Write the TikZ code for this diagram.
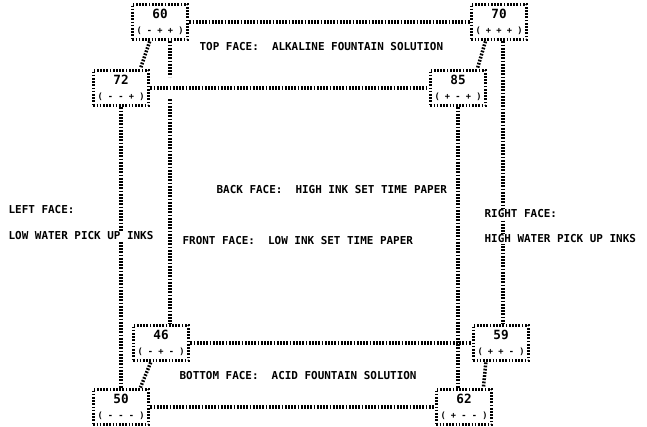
\documentclass[tikz,border=0pt]{standalone}
\usepackage{fontspec}
\newfontfamily\facefont{DejaVu Sans Mono}
\begin{document}
\begin{tikzpicture}[x=0.75pt, y=-0.75pt, line cap=butt,
	dotline/.style={line width=2.6pt, dash pattern=on 1.3pt off 1.1pt},
	cornerbox/.style={draw, dotline, minimum width=41.5pt, minimum height=26.5pt, inner sep=0pt, align=center},
	facelabel/.style={font={\facefont\bfseries\fontsize{8.2}{9}\selectfont}, fill=white, inner sep=1pt, anchor=west}]
	\def\cornertext#1#2{{\facefont\bfseries\fontsize{9.5}{10}\selectfont #1}\\[-1pt]{\facefont\bfseries\fontsize{6.5}{7}\selectfont #2}}
	\useasboundingbox (0,0) rectangle (647,426);
	\node[cornerbox] (b60) at (160,22) {\cornertext{60}{( - + + )}};
	\node[cornerbox] (b70) at (499,22) {\cornertext{70}{( + + + )}};
	\node[cornerbox] (b72) at (121,88) {\cornertext{72}{( - - + )}};
	\node[cornerbox] (b85) at (458,88) {\cornertext{85}{( + - + )}};
	\node[cornerbox] (b46) at (161,343) {\cornertext{46}{( - + - )}};
	\node[cornerbox] (b59) at (501,343) {\cornertext{59}{( + + - )}};
	\node[cornerbox] (b50) at (121,407) {\cornertext{50}{( - - - )}};
	\node[cornerbox] (b62) at (464,407) {\cornertext{62}{( + - - )}};
	\coordinate (backleft) at ([xshift=7.5pt]b60.south);
	\coordinate (backright) at ([xshift=3pt]b70.south);
	\draw[dotline] (b60.east) -- (b70.west);
	\draw[dotline] (b72.east) -- (b85.west);
	\draw[dotline] (b46.east) -- (b59.west);
	\draw[dotline] (b50.east) -- (b62.west);
	\draw[dotline] (b60.-118) -- (b72.45);
	\draw[dotline] (b70.-125) -- (b85.45);
	\draw[dotline] (b46.-118) -- (b50.45);
	\draw[dotline] (b59.-128) -- (b62.45);
	\draw[dotline, shorten >=-6pt] (backleft) -- (backleft |- b72.north);
	\draw[dotline, shorten <=-6pt] (backleft |- b72.south) -- (backleft |- b46.north);
	\draw[dotline] (backright) -- (backright |- b59.north);
	\draw[dotline] (b72.south) -- (b50.north);
	\draw[dotline] (b85.south) -- (b85.south |- b62.north);
	\node[facelabel] (top) at (198,47) {TOP FACE:\ \ ALKALINE FOUNTAIN SOLUTION};
	\node[facelabel] (bottom) at (178,376) {BOTTOM FACE:\ \ ACID FOUNTAIN SOLUTION};
	\node[facelabel] (back) at (215,190) {BACK FACE:\ \ HIGH INK SET TIME PAPER};
	\node[facelabel] (front) at (181,241) {FRONT FACE:\ \ LOW INK SET TIME PAPER};
	\node[facelabel] (left1) at (7,210) {LEFT FACE:};
	\node[facelabel] (left2) at (7,236) {LOW WATER PICK UP INKS};
	\node[facelabel] (right1) at (483,214) {RIGHT FACE:};
	\node[facelabel] (right2) at (483,239) {HIGH WATER PICK UP INKS};
\end{tikzpicture}
\end{document}
